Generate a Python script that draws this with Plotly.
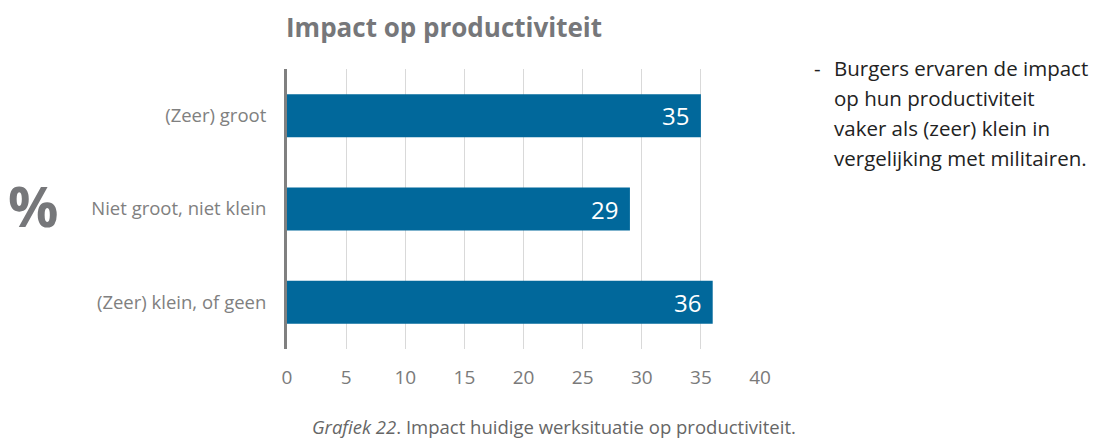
import plotly.graph_objects as go

categories = ["(Zeer) groot", "Niet groot, niet klein", "(Zeer) klein, of geen"]
values = [35, 29, 36]
tick_values = [0, 5, 10, 15, 20, 25, 30, 35, 40]

title_text = "Impact op productiviteit"
note_lines = [
    "Burgers ervaren de impact",
    "op hun productiviteit",
    "vaker als (zeer) klein in",
    "vergelijking met militairen.",
]
caption = "<i>Grafiek 22</i>. Impact huidige werksituatie op productiviteit."

FONT = "Open Sans, Noto Sans, sans-serif"
BLUE = "#01689b"
GREY = "#7a7a7a"

# the page body keeps an 8px margin, so the figure is 8px smaller than the window
fig = go.Figure()
fig.add_trace(
    go.Bar(
        x=values,
        y=categories,
        orientation="h",
        marker=dict(color=BLUE, line=dict(width=0)),
        hoverinfo="skip",
    )
)

# value labels inside the bar ends
for cat, v in zip(categories, values):
    fig.add_annotation(
        x=v, y=cat, text=str(v), xanchor="right", yanchor="middle", xshift=-10,
        showarrow=False, font=dict(color="white", size=24, family=FONT),
    )

fig.update_layout(
    width=1090,
    height=431,
    paper_bgcolor="white",
    plot_bgcolor="white",
    margin=dict(l=279, r=338, t=61, b=90),
    bargap=0.54,
    showlegend=False,
    font=dict(family=FONT, color=GREY),
    xaxis=dict(
        range=[0, 40],
        tickvals=tick_values,
        showgrid=True,
        gridcolor="#d9d9d9",
        gridwidth=1,
        zeroline=False,
        showline=False,
        ticks="",
        tickfont=dict(size=19, color=GREY),
        ticklabelstandoff=15,
        fixedrange=True,
    ),
    yaxis=dict(
        categoryorder="array",
        categoryarray=categories[::-1],
        showgrid=False,
        zeroline=False,
        showline=True,
        linecolor="#808080",
        linewidth=3,
        ticks="",
        tickfont=dict(size=18.5, color="#808080"),
        ticklabelstandoff=14,
        fixedrange=True,
    ),
)

# title above plot
fig.add_annotation(
    text="<b>" + title_text + "</b>", xref="paper", yref="paper", x=0, y=1,
    xanchor="left", yanchor="bottom", yshift=22, xshift=-3, showarrow=False,
    font=dict(size=26, color="#76777a", family=FONT),
)

# big percent sign left of labels
fig.add_annotation(
    text="<b>%</b>", xref="paper", yref="paper", x=0, y=0.5,
    xanchor="center", yanchor="middle", xshift=-254, yshift=4, showarrow=False,
    font=dict(size=56, color="#76777a", family=FONT),
)

# note text on the right
fig.add_annotation(
    text="-", xref="paper", yref="paper", x=1, y=1, xanchor="left", yanchor="middle",
    xshift=52, yshift=1, showarrow=False, font=dict(size=20.5, color="#222222", family=FONT),
)
for i, line in enumerate(note_lines):
    fig.add_annotation(
        text=line, xref="paper", yref="paper", x=1, y=1, xanchor="left", yanchor="middle",
        xshift=72, yshift=1 - i * 30, showarrow=False,
        font=dict(size=20.5, color="#222222", family=FONT),
    )

# caption under chart
fig.add_annotation(
    text=caption, xref="paper", yref="paper", x=0.5, y=0, xanchor="center", yanchor="middle",
    xshift=30, yshift=-77, showarrow=False, borderpad=0,
    font=dict(size=18.5, color="#666666", family=FONT),
)

fig.write_html("out.html")
